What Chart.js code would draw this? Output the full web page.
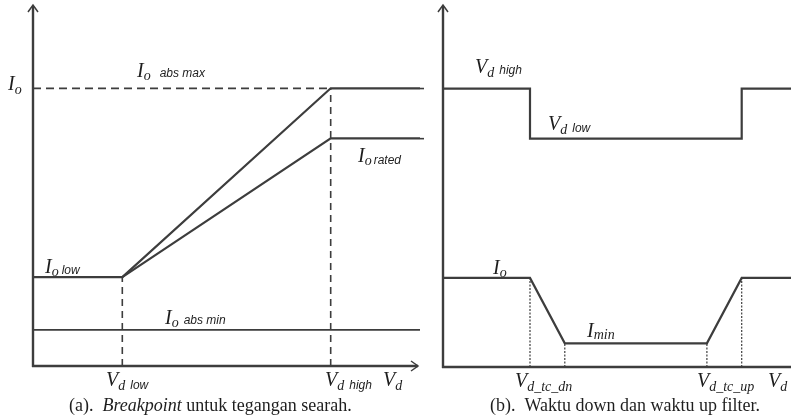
<!DOCTYPE html>
<html>
<head>
<meta charset="utf-8">
<script src="https://cdn.jsdelivr.net/npm/chart.js@4"></script>
<style>
  html, body { margin: 0; padding: 0; background: #fff; }
  #wrap { position: relative; width: 791px; height: 418px; overflow: hidden; background: #fff; }
  canvas { position: absolute; top: 0; }
  #chartA { left: 0; }
  #chartB { left: 420px; }
</style>
</head>
<body>
<div id="wrap">
  <canvas id="chartA" width="420" height="418"></canvas>
  <canvas id="chartB" width="371" height="418"></canvas>
</div>
<script>
// ---- (a) Breakpoint untuk tegangan searah ----
// V_d positions: axis origin, V_d low, V_d high, end of axis
const vdPoints = [0, 3, 10, 13];
// current limit along those V_d positions
const ioAbsMaxLine = [3.2, 3.2, 10, 10];
const ioRatedLine = [3.2, 3.2, 8.2, 8.2];
const ioAbsMinLine = [1.3, 1.3, 1.3, 1.3];

// ---- (b) Waktu down dan waktu up filter ----
// time instants: start, V_d drop, I_min reached, ramp up start, V_d restored, end
const tPoints = [0, 3, 4.2, 9.1, 10.3, 12];
const ioTrace = [3.2, 3.2, 0.85, 0.85, 3.2, 3.2];
// DC voltage steps (drawn as a stepped line)
const vdStepT = [0, 3, 10.3, 12];
const vdStepLevel = [10, 8.2, 10, 10];

const INK = '#3d3d3d';
const TEXT = '#1e1e1e';
const SERIF = '"Liberation Serif", "Times New Roman", serif';
const SANS = '"Liberation Sans", Arial, sans-serif';
const F_MAIN = 'italic 20px ' + SERIF;
const F_SUB = 'italic 14px ' + SERIF;
const F_SANS = 'italic 12px ' + SANS;
const F_CAP = '18px ' + SERIF;
const F_CAP_IT = 'italic 18px ' + SERIF;

function pts(xs, ys, from, to) {
  const out = [];
  for (let i = from; i <= to; i++) out.push({ x: xs[i], y: ys[i] });
  return out;
}

function line(data, extra) {
  return Object.assign({
    data,
    showLine: true,
    borderColor: INK,
    borderWidth: 2.2,
    pointRadius: 0,
    fill: false,
    tension: 0,
    clip: 4,
    borderCapStyle: 'butt',
    borderJoinStyle: 'miter'
  }, extra || {});
}

// draws a label made of runs: {t, f, dy, gap}
function drawRuns(ctx, x, y, runs) {
  ctx.fillStyle = TEXT;
  ctx.textBaseline = 'alphabetic';
  ctx.textAlign = 'left';
  for (const r of runs) {
    ctx.font = r.f;
    ctx.fillText(r.t, x, y + (r.dy || 0));
    x += ctx.measureText(r.t).width + (r.gap || 0);
  }
}

function drawArrowAxes(ctx, area, xArrow) {
  ctx.save();
  ctx.strokeStyle = INK;
  ctx.lineWidth = 2.4;
  ctx.lineCap = 'butt';
  // vertical axis
  ctx.beginPath();
  ctx.moveTo(area.left, area.bottom + 1);
  ctx.lineTo(area.left, area.top + 1);
  ctx.stroke();
  // horizontal axis
  const xEnd = xArrow ? area.right - 2 : area.right;
  ctx.beginPath();
  ctx.moveTo(area.left - 1, area.bottom);
  ctx.lineTo(xEnd, area.bottom);
  ctx.stroke();
  // open arrow heads
  ctx.lineWidth = 1.5;
  ctx.beginPath();
  ctx.moveTo(area.left - 5, area.top + 7);
  ctx.lineTo(area.left, area.top);
  ctx.lineTo(area.left + 5, area.top + 7);
  ctx.stroke();
  if (xArrow) {
    ctx.beginPath();
    ctx.moveTo(xEnd - 7, area.bottom - 5);
    ctx.lineTo(xEnd, area.bottom);
    ctx.lineTo(xEnd - 7, area.bottom + 5);
    ctx.stroke();
  }
  ctx.restore();
}

function baseOptions(xMax, yMax, padding) {
  return {
    responsive: false,
    animation: false,
    devicePixelRatio: 1,
    layout: { padding },
    plugins: { legend: { display: false }, tooltip: { enabled: false }, title: { display: false } },
    events: [],
    scales: {
      x: { type: 'linear', min: 0, max: xMax, display: false },
      y: { type: 'linear', min: 0, max: yMax, display: false }
    }
  };
}

// ---------- chart (a) ----------
const decorA = {
  id: 'decorA',
  beforeDatasetsDraw(chart) {
    drawArrowAxes(chart.ctx, chart.chartArea, true);
  },
  afterDraw(chart) {
    const ctx = chart.ctx;
    drawRuns(ctx, 8, 90, [{ t: 'I', f: F_MAIN }, { t: 'o', f: F_SUB, dy: 4 }]);
    drawRuns(ctx, 137, 77, [{ t: 'I', f: F_MAIN }, { t: 'o', f: F_SUB, dy: 3, gap: 9 }, { t: 'abs max', f: F_SANS }]);
    drawRuns(ctx, 358, 162, [{ t: 'I', f: F_MAIN }, { t: 'o', f: F_SUB, dy: 3, gap: 2 }, { t: 'rated', f: F_SANS, dy: 2 }]);
    drawRuns(ctx, 45, 273, [{ t: 'I', f: F_MAIN }, { t: 'o', f: F_SUB, dy: 3, gap: 3 }, { t: 'low', f: F_SANS, dy: 1 }]);
    drawRuns(ctx, 165, 324, [{ t: 'I', f: F_MAIN }, { t: 'o', f: F_SUB, dy: 3, gap: 5 }, { t: 'abs min', f: F_SANS }]);
    drawRuns(ctx, 106, 386, [{ t: 'V', f: F_MAIN }, { t: 'd', f: F_SUB, dy: 4, gap: 5 }, { t: 'low', f: F_SANS, dy: 3 }]);
    drawRuns(ctx, 325, 386, [{ t: 'V', f: F_MAIN }, { t: 'd', f: F_SUB, dy: 4, gap: 5 }, { t: 'high', f: F_SANS, dy: 3 }]);
    drawRuns(ctx, 383, 386, [{ t: 'V', f: F_MAIN }, { t: 'd', f: F_SUB, dy: 4 }]);
    drawRuns(ctx, 69, 411, [{ t: '(a).  ', f: F_CAP }, { t: 'Breakpoint', f: F_CAP_IT }, { t: ' untuk tegangan searah.', f: F_CAP }]);
  }
};

new Chart(document.getElementById('chartA'), {
  type: 'scatter',
  data: {
    datasets: [
      // I_o abs max reference (dashed)
      line([{ x: vdPoints[0], y: ioAbsMaxLine[2] }, { x: vdPoints[2], y: ioAbsMaxLine[2] }],
           { borderWidth: 1.8, borderDash: [8, 5] }),
      // verticals at V_d low and V_d high
      line([{ x: vdPoints[1], y: 0 }, { x: vdPoints[1], y: ioAbsMaxLine[1] }],
           { borderWidth: 1.6, borderDash: [7, 5] }),
      line([{ x: vdPoints[2], y: 0 }, { x: vdPoints[2], y: ioAbsMaxLine[2] }],
           { borderWidth: 1.6, borderDash: [7, 5] }),
      // I_o abs min
      line(pts(vdPoints, ioAbsMinLine, 0, 3), { borderWidth: 1.6 }),
      // I_o rated curve
      line(pts(vdPoints, ioRatedLine, 1, 3)),
      // I_o low -> I_o abs max curve
      line(pts(vdPoints, ioAbsMaxLine, 0, 3))
    ]
  },
  options: baseOptions(vdPoints[3], 13, { left: 33, top: 5, right: 0, bottom: 52 }),
  plugins: [decorA]
});

// ---------- chart (b) ----------
const decorB = {
  id: 'decorB',
  beforeDatasetsDraw(chart) {
    const ctx = chart.ctx;
    drawArrowAxes(ctx, chart.chartArea, false);
    // short marks at the left edge for the two V_d levels
    const ys = chart.scales.y;
    ctx.save();
    ctx.strokeStyle = INK;
    ctx.lineWidth = 1.6;
    for (const v of [vdStepLevel[0], vdStepLevel[1]]) {
      const y = ys.getPixelForValue(v);
      ctx.beginPath();
      ctx.moveTo(0, y);
      ctx.lineTo(4, y);
      ctx.stroke();
    }
    ctx.restore();
  },
  afterDraw(chart) {
    const ctx = chart.ctx;
    drawRuns(ctx, 55, 73, [{ t: 'V', f: F_MAIN }, { t: 'd', f: F_SUB, dy: 4, gap: 5 }, { t: 'high', f: F_SANS, dy: 1 }]);
    drawRuns(ctx, 128, 130, [{ t: 'V', f: F_MAIN }, { t: 'd', f: F_SUB, dy: 4, gap: 5 }, { t: 'low', f: F_SANS, dy: 2 }]);
    drawRuns(ctx, 73, 274, [{ t: 'I', f: F_MAIN }, { t: 'o', f: F_SUB, dy: 3 }]);
    drawRuns(ctx, 167, 337, [{ t: 'I', f: F_MAIN }, { t: 'min', f: F_SUB, dy: 2 }]);
    drawRuns(ctx, 95, 387, [{ t: 'V', f: F_MAIN }, { t: 'd_tc_dn', f: F_SUB, dy: 4 }]);
    drawRuns(ctx, 277, 387, [{ t: 'V', f: F_MAIN }, { t: 'd_tc_up', f: F_SUB, dy: 4 }]);
    drawRuns(ctx, 348, 387, [{ t: 'V', f: F_MAIN }, { t: 'd', f: F_SUB, dy: 4 }]);
    drawRuns(ctx, 70, 411, [{ t: '(b).  Waktu down dan waktu up filter.', f: F_CAP }]);
  }
};

const dottedB = [];
for (let i = 1; i <= 4; i++) {
  dottedB.push(line([{ x: tPoints[i], y: 0 }, { x: tPoints[i], y: ioTrace[i] }],
                    { borderWidth: 1.2, borderDash: [2, 1.5] }));
}

new Chart(document.getElementById('chartB'), {
  type: 'scatter',
  data: {
    datasets: dottedB.concat([
      line(pts(vdStepT, vdStepLevel, 0, 3), { stepped: 'before' }),
      line(pts(tPoints, ioTrace, 0, 5))
    ])
  },
  options: baseOptions(tPoints[5], 13, { left: 23, top: 5, right: 0, bottom: 51 }),
  plugins: [decorB]
});
</script>
</body>
</html>
